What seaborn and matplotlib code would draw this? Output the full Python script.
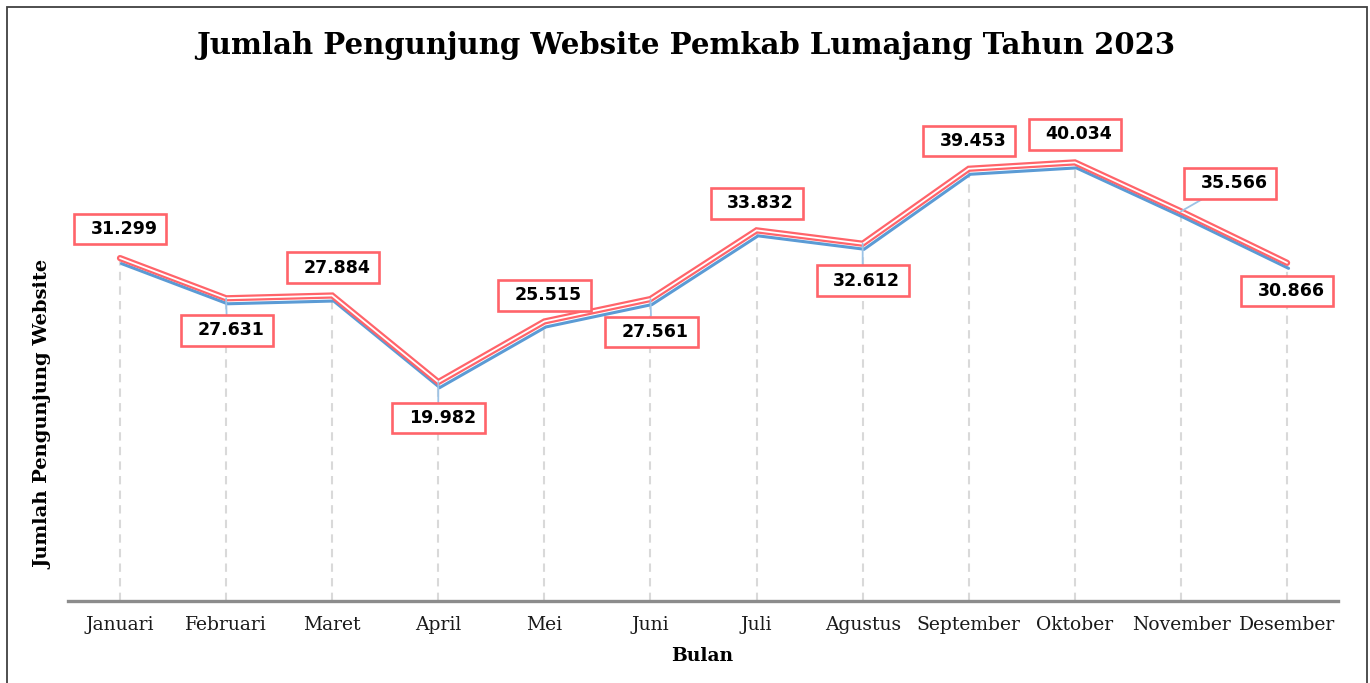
import numpy as np
import pandas as pd
import matplotlib
matplotlib.use("Agg")
import matplotlib.pyplot as plt
import matplotlib.transforms as mtransforms
from matplotlib.path import Path
from matplotlib.patches import Rectangle
import seaborn as sns

# ---- data ----
months = ["Januari", "Februari", "Maret", "April", "Mei", "Juni", "Juli",
          "Agustus", "September", "Oktober", "November", "Desember"]
visitors = [31299, 27631, 27884, 19982, 25515, 27561, 33832,
            32612, 39453, 40034, 35566, 30866]
value_labels = ["31.299", "27.631", "27.884", "19.982", "25.515", "27.561",
                "33.832", "32.612", "39.453", "40.034", "35.566", "30.866"]

title = "Jumlah Pengunjung Website Pemkab Lumajang Tahun 2023"
xlabel = "Bulan"
ylabel = "Jumlah Pengunjung Website"

# label offsets in pixels (dx, dy) relative to the point; leader line flag
label_offsets = [(0, 29), (1, -32), (1, 28), (0, -36), (0, 26), (1, -33),
                 (0, 27), (0, -37), (0, 28), (0, 28), (49, 28), (0, -28)]
leader = [False, True, False, True, False, True, False, True, False, False, True, False]

RED = "#FF646A"
BLUE = "#5B9BD5"
LIGHTBLUE = "#9DC3E6"

sns.set_theme(style="white")
plt.rcParams["font.family"] = ["DejaVu Serif"]

fig = plt.figure(figsize=(13.7, 6.83), dpi=100)
ax = fig.add_axes([68 / 1370, 1 - 601 / 683, 1270 / 1370, 493 / 683])

df = pd.DataFrame({"pos": np.arange(len(months)), "month": months, "value": visitors})

# drop lines
ax.vlines(df["pos"], 0, df["value"], colors="#D9D9D9", linewidth=1.5,
          linestyles=(0, (4, 3)), zorder=1)

# blue shadow line (offset)
sns.lineplot(data=df, x="pos", y="value", ax=ax, color=BLUE, linewidth=2.2,
             zorder=2, solid_capstyle="round", solid_joinstyle="miter")
blue_line = ax.lines[-1]
blue_line.set_transform(ax.transData + mtransforms.ScaledTranslation(1.5 / 100, -5.5 / 100, fig.dpi_scale_trans))

# red outer line with white core
sns.lineplot(data=df, x="pos", y="value", ax=ax, color=RED, linewidth=4.5,
             zorder=3, solid_capstyle="round", solid_joinstyle="miter")
sns.lineplot(data=df, x="pos", y="value", ax=ax, color="white", linewidth=1.3,
             zorder=4, solid_capstyle="round", solid_joinstyle="miter")


def label_box(x0, y0, width, height, mutation_size):
    pl = 0.95 * mutation_size
    pr = 0.50 * mutation_size
    py = 0.36 * mutation_size
    xa, ya = x0 - pl, y0 - py
    xb, yb = x0 + width + pr, y0 + height + py
    return Path([(xa, ya), (xb, ya), (xb, yb), (xa, yb), (xa, ya)],
                closed=True)


for i, (pos, val, lab) in enumerate(zip(df["pos"], visitors, value_labels)):
    dx, dy = label_offsets[i]
    arrow = None
    if leader[i]:
        arrow = dict(arrowstyle="-", color=LIGHTBLUE, lw=1.3, shrinkA=0, shrinkB=0,
                     relpos=(0.44, 0.5))
    ax.annotate(lab, xy=(pos, val), xytext=(dx + 4, dy), textcoords="offset pixels",
                ha="center", va="center", fontsize=12.5, fontweight="bold",
                family="DejaVu Sans", color="black", zorder=6,
                bbox=dict(boxstyle=label_box, fc="white", ec=RED, lw=1.9),
                arrowprops=arrow)

ax.set_xlim(-0.49, 11.48)
ax.set_ylim(0, 45000)
ax.set_xticks(df["pos"])
ax.set_xticklabels(months, fontsize=13.5, color="#1a1a1a")
ax.set_yticks([])
ax.tick_params(axis="x", length=0, pad=11)
for s in ["top", "right", "left"]:
    ax.spines[s].set_visible(False)
ax.spines["bottom"].set_color("#8C8C8C")
ax.spines["bottom"].set_linewidth(2.4)
ax.set_xlabel("")
ax.set_ylabel("")

fig.text(702 / 1370, 1 - 656 / 683, xlabel, ha="center", va="center",
         fontsize=13.5, fontweight="bold", color="black")
fig.text(43 / 1370, 1 - 414 / 683, ylabel, ha="center", va="center",
         rotation=90, fontsize=14, fontweight="bold", color="black")
fig.text(686 / 1370, 1 - 45 / 683, title, ha="center", va="center",
         fontsize=21, fontweight="bold", color="black")

# outer frame
fig.patches.append(Rectangle((7 / 1370, -0.05), 1360 / 1370, 1.05 - 7 / 683,
                             transform=fig.transFigure, fill=False,
                             ec="#404040", lw=1.3, zorder=0))

fig.savefig("out.png", dpi=100, facecolor="white")
